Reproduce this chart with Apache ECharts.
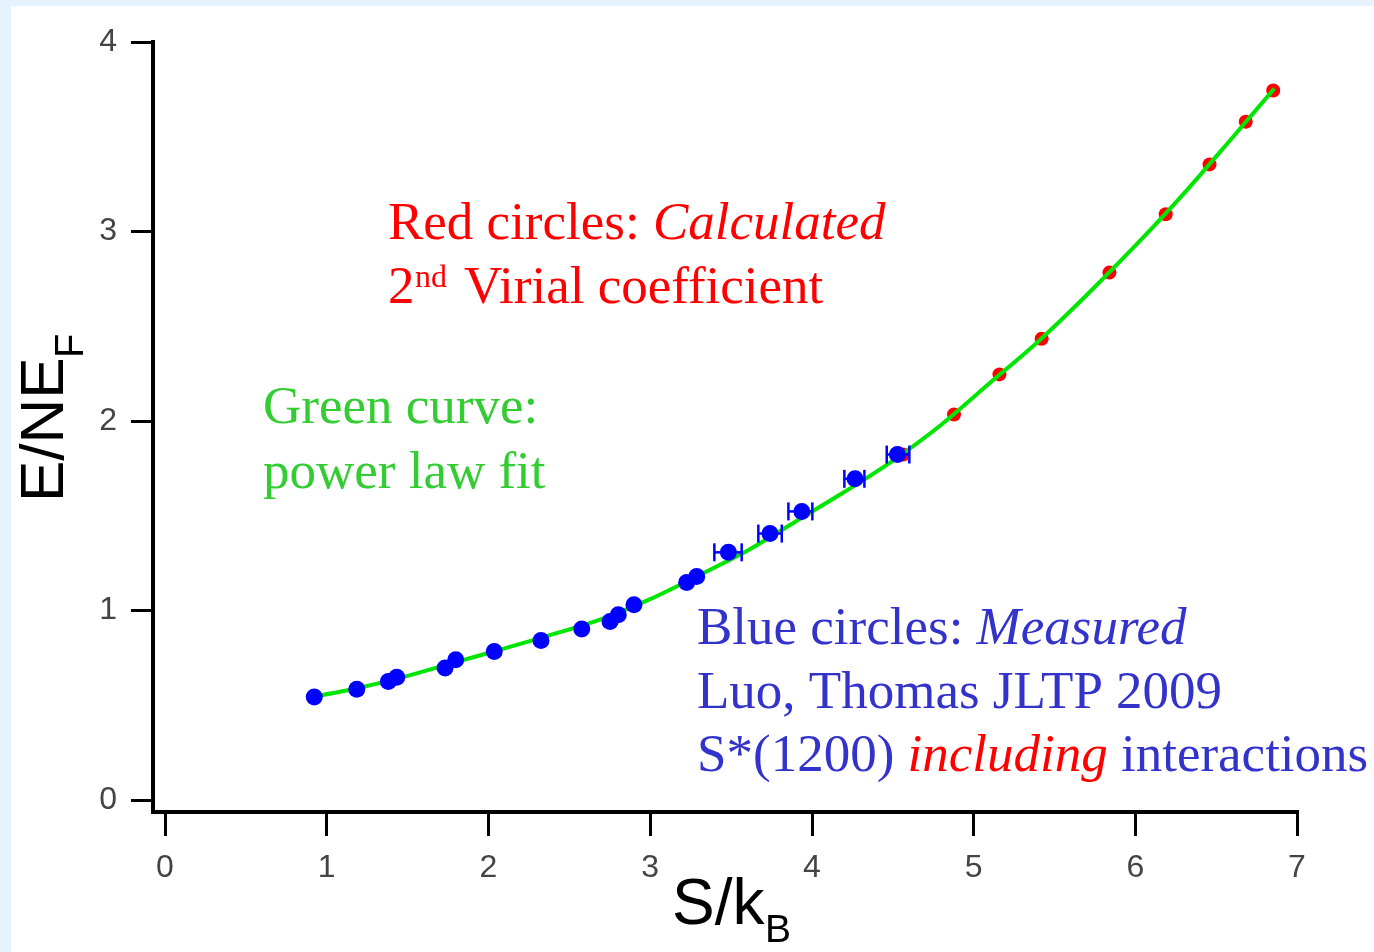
<!DOCTYPE html>
<html><head><meta charset="utf-8">
<script src="https://cdn.jsdelivr.net/npm/echarts@6/dist/echarts.min.js"></script>
<style>
html,body{margin:0;padding:0;width:1374px;height:952px;overflow:hidden;background:#e7f3fc;}
#panel{position:absolute;left:11px;top:6px;right:0;bottom:0;background:#fff;}
#chart{position:absolute;left:0;top:0;width:1374px;height:952px;}
</style></head><body>
<div id="panel"></div><div id="chart"></div>
<script>
// Tick labels
const xTicks = [0, 1, 2, 3, 4, 5, 6, 7];
const yTicks = [0, 1, 2, 3, 4];

// Blue circles: measured (Luo, Thomas JLTP 2009)
const measX = [0.923, 1.186, 1.381, 1.433, 1.732, 1.798, 2.036, 2.325, 2.577, 2.752, 2.803, 2.900, 3.226, 3.288, 3.484, 3.741, 3.938, 4.267, 4.529];
const measY = [0.543, 0.585, 0.625, 0.648, 0.696, 0.740, 0.784, 0.842, 0.902, 0.942, 0.978, 1.030, 1.148, 1.180, 1.307, 1.406, 1.523, 1.695, 1.823];

// Horizontal error bars on the measured points
const errX  = [3.484, 3.741, 3.938, 4.267, 4.529];
const errY  = [1.307, 1.406, 1.523, 1.695, 1.823];
const errLo = [3.397, 3.669, 3.855, 4.201, 4.463];
const errHi = [3.566, 3.814, 4.003, 4.325, 4.603];

// Red circles: calculated 2nd virial coefficient
const calcX = [4.564, 4.879, 5.160, 5.421, 5.840, 6.188, 6.459, 6.683, 6.853];
const calcY = [1.823, 2.034, 2.246, 2.434, 2.783, 3.091, 3.354, 3.579, 3.744];

// Green curve: power law fit
const fitX = [0.92, 1.2, 1.5, 1.8, 2.1, 2.4, 2.7, 3.0, 3.3, 3.6, 3.9, 4.2, 4.5, 4.8, 5.1, 5.4, 5.7, 6.0, 6.3, 6.6, 6.86];
const fitY = [0.545, 0.592, 0.655, 0.728, 0.80, 0.875, 0.955, 1.06, 1.185, 1.315, 1.47, 1.625, 1.79, 1.98, 2.2, 2.42, 2.665, 2.925, 3.2, 3.495, 3.755];

const zip = (a, b) => a.map((v, i) => [v, b[i]]);

const chart = echarts.init(document.getElementById('chart'), null, {renderer: 'canvas'});

const sans = 'Liberation Sans';
const serif = 'Liberation Serif';
const RED = '#ff0000', GREEN = '#33cc33', BLUE_T = '#3333cc';

const option = {
  backgroundColor: 'transparent',
  animation: false,
  grid: {left: 153, right: 77, top: 42, bottom: 140, containLabel: false},
  xAxis: {
    type: 'value', min: -0.0742, max: 7,
    axisLine: {onZero: false, lineStyle: {color: '#000', width: 4, cap: 'square'}},
    axisTick: {customValues: xTicks, length: 24, lineStyle: {color: '#000', width: 3}},
    axisLabel: {customValues: xTicks, margin: 40, fontSize: 32, color: '#444', fontFamily: sans},
    splitLine: {show: false}
  },
  yAxis: {
    type: 'value', min: -0.06332, max: 4,
    axisLine: {onZero: false, lineStyle: {color: '#000', width: 4, cap: 'square'}},
    axisTick: {customValues: yTicks, length: 22, lineStyle: {color: '#000', width: 3}},
    axisLabel: {customValues: yTicks, margin: 36, fontSize: 32, color: '#444', fontFamily: sans},
    splitLine: {show: false}
  },
  series: [
    {
      type: 'scatter', name: 'calc', z: 2,
      data: zip(calcX, calcY),
      symbol: 'circle', symbolSize: 14,
      itemStyle: {color: RED, opacity: 1}
    },
    {
      type: 'line', name: 'fit', z: 3,
      data: zip(fitX, fitY),
      smooth: 0.3, showSymbol: false, symbol: 'none',
      lineStyle: {color: '#00e600', width: 4}
    },
    {
      type: 'custom', name: 'err', z: 4,
      data: errX.map((x, i) => [x, errY[i], errLo[i], errHi[i]]),
      encode: {x: 0, y: 1},
      renderItem: function (params, api) {
        const y = api.value(1), lo = api.value(2), hi = api.value(3);
        const p1 = api.coord([lo, y]), p2 = api.coord([hi, y]);
        const h = 9;
        const st = {stroke: '#0000ff', lineWidth: 2.5};
        return {type: 'group', children: [
          {type: 'line', shape: {x1: p1[0], y1: p1[1], x2: p2[0], y2: p2[1]}, style: st},
          {type: 'line', shape: {x1: p1[0], y1: p1[1] - h, x2: p1[0], y2: p1[1] + h}, style: st},
          {type: 'line', shape: {x1: p2[0], y1: p2[1] - h, x2: p2[0], y2: p2[1] + h}, style: st}
        ]};
      }
    },
    {
      type: 'scatter', name: 'meas', z: 5,
      data: zip(measX, measY),
      symbol: 'circle', symbolSize: 17,
      itemStyle: {color: '#0000ff', opacity: 1}
    }
  ],
  graphic: [
    // axis names
    {type: 'text', x: 46, y: 502, rotation: Math.PI / 2,
      style: {text: 'E/NE', font: '62px ' + sans, fill: '#000', align: 'left', verticalAlign: 'middle'}},
    {type: 'text', x: 72, y: 358, rotation: Math.PI / 2,
      style: {text: 'F', font: '40px ' + sans, fill: '#000', align: 'left', verticalAlign: 'middle'}},
    {type: 'text', x: 672, y: 906,
      style: {text: 'S/k', font: '64px ' + sans, fill: '#000', align: 'left', verticalAlign: 'middle'}},
    {type: 'text', x: 765, y: 931,
      style: {text: 'B', font: '39px ' + sans, fill: '#000', align: 'left', verticalAlign: 'middle'}},
    // annotations
    {type: 'text', x: 388, y: 225,
      style: {text: '{a|Red circles: }{b|Calculated}', align: 'left', verticalAlign: 'middle',
        rich: {a: {font: '53px ' + serif, fill: RED}, b: {font: 'italic 53px ' + serif, fill: RED}}}},
    {type: 'text', x: 388, y: 289,
      style: {text: '2', font: '53px ' + serif, fill: RED, align: 'left', verticalAlign: 'middle'}},
    {type: 'text', x: 415, y: 279,
      style: {text: 'nd', font: '32px ' + serif, fill: RED, align: 'left', verticalAlign: 'middle'}},
    {type: 'text', x: 464, y: 289,
      style: {text: 'Virial coefficient', font: '53px ' + serif, fill: RED, align: 'left', verticalAlign: 'middle'}},
    {type: 'text', x: 263, y: 409,
      style: {text: 'Green curve:', font: '53px ' + serif, fill: GREEN, align: 'left', verticalAlign: 'middle'}},
    {type: 'text', x: 263, y: 474,
      style: {text: 'power law fit', font: '53px ' + serif, fill: GREEN, align: 'left', verticalAlign: 'middle'}},
    {type: 'text', x: 697, y: 630,
      style: {text: '{a|Blue circles: }{b|Measured}', align: 'left', verticalAlign: 'middle',
        rich: {a: {font: '53px ' + serif, fill: BLUE_T}, b: {font: 'italic 53px ' + serif, fill: BLUE_T}}}},
    {type: 'text', x: 697, y: 694,
      style: {text: 'Luo, Thomas JLTP 2009', font: '53px ' + serif, fill: BLUE_T, align: 'left', verticalAlign: 'middle'}},
    {type: 'text', x: 697, y: 757,
      style: {text: '{a|S*(1200) }{b|including}{a| interactions}', align: 'left', verticalAlign: 'middle',
        rich: {a: {font: '53px ' + serif, fill: BLUE_T}, b: {font: 'italic 53px ' + serif, fill: RED}}}}
  ]
};
chart.setOption(option);
</script>
</body></html>
